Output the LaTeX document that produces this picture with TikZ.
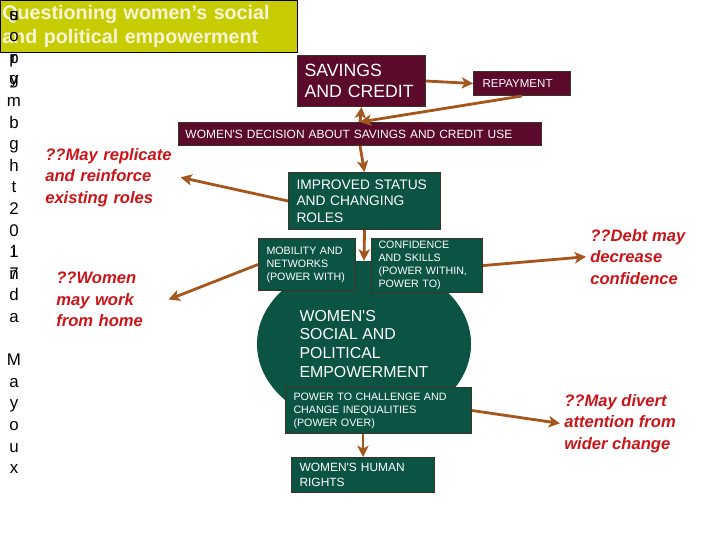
\documentclass[tikz,border=0pt]{standalone}
\usepackage{fontspec}
\setmainfont{Liberation Sans}[Ligatures=TeXOff]
\usetikzlibrary{arrows.meta,shapes.geometric}
\definecolor{EmpOlive}{HTML}{C8CC02}
\definecolor{EmpCream}{HTML}{F6F4D8}
\definecolor{EmpMaroon}{HTML}{5C0A2C}
\definecolor{EmpGreen}{HTML}{0B5443}
\definecolor{EmpEdge}{HTML}{3B3326}
\definecolor{EmpBrown}{HTML}{A5561C}
\definecolor{EmpRed}{HTML}{CC1418}

\begin{document}
\begin{tikzpicture}[
      x=0.025cm,y=-0.025cm,
      >={Stealth[length=8pt,width=8pt,inset=2pt]},
      box/.style={draw=EmpEdge,line width=0.7pt,anchor=north west,align=left,text=white,inner ysep=2pt},
      finbox/.style={box,fill=EmpMaroon},
      powbox/.style={box,fill=EmpGreen},
      note/.style={anchor=north west,align=left,inner sep=0.1cm,text=EmpRed,
        font=\fontsize{11.8}{15.2}\selectfont\bfseries\itshape},
      letter/.style={anchor=base,inner sep=0pt,font=\fontsize{12}{13}\selectfont},
      link/.style={->,line width=2pt,draw=EmpBrown}
    ]
    \useasboundingbox (0,0) rectangle (720,540);

    \node[anchor=north west,draw=black,fill=EmpOlive,text=EmpCream,align=left,
      minimum width=7.425cm,minimum height=1.275cm,text width=7.325cm,inner xsep=0.05cm,
      font=\fontsize{14}{17}\selectfont\bfseries] (title) at (0,0)
      {Questioning women’s social\\and political empowerment};

    % vertical credit line, letters printed over one another
    \foreach \row/\ch [count=\n] in {1/s,1/u,2/o,3/p,3/r,4/y,4/g,5/m,6/b,7/g,8/h,9/t,
        10/2,11/0,12/1,12/i,13/7,13/n,14/d,15/a,17/M,18/a,19/y,20/o,21/u,22/x}
      \node[letter] (let\n) at ({14},{20+21.6*(\row-1)}) {\ch};

    \node[ellipse,fill=EmpGreen,minimum width=5.35cm,minimum height=4.15cm,inner sep=0pt,
      align=left,text=white,font=\fontsize{11.3}{13.5}\selectfont] (empower) at (364,344)
      {WOMEN'S\\SOCIAL AND\\POLITICAL\\EMPOWERMENT};

    \node[finbox,minimum width=3.2cm,minimum height=1.275cm,text width=2.85cm,inner xsep=0.175cm,
      font=\fontsize{12.6}{14.9}\selectfont] (savings) at (297,55) {SAVINGS\\AND CREDIT};
    \node[finbox,minimum width=2.425cm,minimum height=0.6cm,text width=1.975cm,inner xsep=0.225cm,
      font=\fontsize{8.2}{10}\selectfont] (repay) at (473,71) {REPAYMENT};
    \node[finbox,minimum width=9.075cm,minimum height=0.575cm,text width=8.725cm,inner xsep=0.175cm,
      font=\fontsize{8.5}{10}\selectfont] (decision) at (178,122)
      {WOMEN'S DECISION ABOUT SAVINGS AND CREDIT USE};

    \node[powbox,minimum width=3.8cm,minimum height=1.425cm,text width=3.4cm,inner xsep=0.2cm,
      font=\fontsize{9.8}{11.7}\selectfont] (improved) at (288,172)
      {IMPROVED STATUS\\AND CHANGING\\ROLES};
    \node[powbox,minimum width=2.425cm,minimum height=1.3cm,text width=2.025cm,inner xsep=0.2cm,
      font=\fontsize{7.6}{9.2}\selectfont] (mobility) at (258,238)
      {MOBILITY AND\\NETWORKS\\(POWER WITH)};
    \node[powbox,minimum width=2.775cm,minimum height=1.3cm,text width=2.425cm,inner xsep=0.175cm,
      font=\fontsize{7.6}{9.2}\selectfont] (confidence) at (371,238)
      {CONFIDENCE\\AND SKILLS\\(POWER WITHIN,\\POWER TO)};
    \node[powbox,minimum width=4.65cm,minimum height=1.15cm,text width=4.25cm,inner xsep=0.2cm,
      font=\fontsize{7.6}{9.2}\selectfont] (power) at (285,387)
      {POWER TO CHALLENGE AND\\CHANGE INEQUALITIES\\(POWER OVER)};
    \node[powbox,minimum width=3.575cm,minimum height=0.875cm,text width=3.175cm,inner xsep=0.2cm,
      font=\fontsize{8.5}{10.6}\selectfont] (rights) at (291,457)
      {WOMEN'S HUMAN\\RIGHTS};

    \node[note,text width=3.275cm] (replicate) at (41,144)
      {??May replicate\\and reinforce\\existing roles};
    \node[note,text width=2.7cm] (women) at (52,268) {??Women\\may work\\from home};
    \node[note] (debt) at (586,225) {??Debt may\\decrease\\confidence};
    \node[note] (divert) at (560,390) {??May divert\\attention from\\wider change};

    \draw[link] (savings.east) -- (repay.west);
    \draw[link] (repay.south) -- (decision.north);
    \draw[link] (decision.north) -- (savings.south);
    \draw[link] (decision.south) -- (improved.north);
    \draw[link] (improved.west) -- (replicate.east);
    \draw[link] (mobility.west) -- (women.east);
    \draw[link] (improved.south) -- (empower.north);
    \draw[link] (confidence.east) -- (debt.west);
    \draw[link] (power.east) -- (divert.west);
    \draw[link] (power.south -| rights.north) -- (rights.north);
  \end{tikzpicture}
\end{document}
